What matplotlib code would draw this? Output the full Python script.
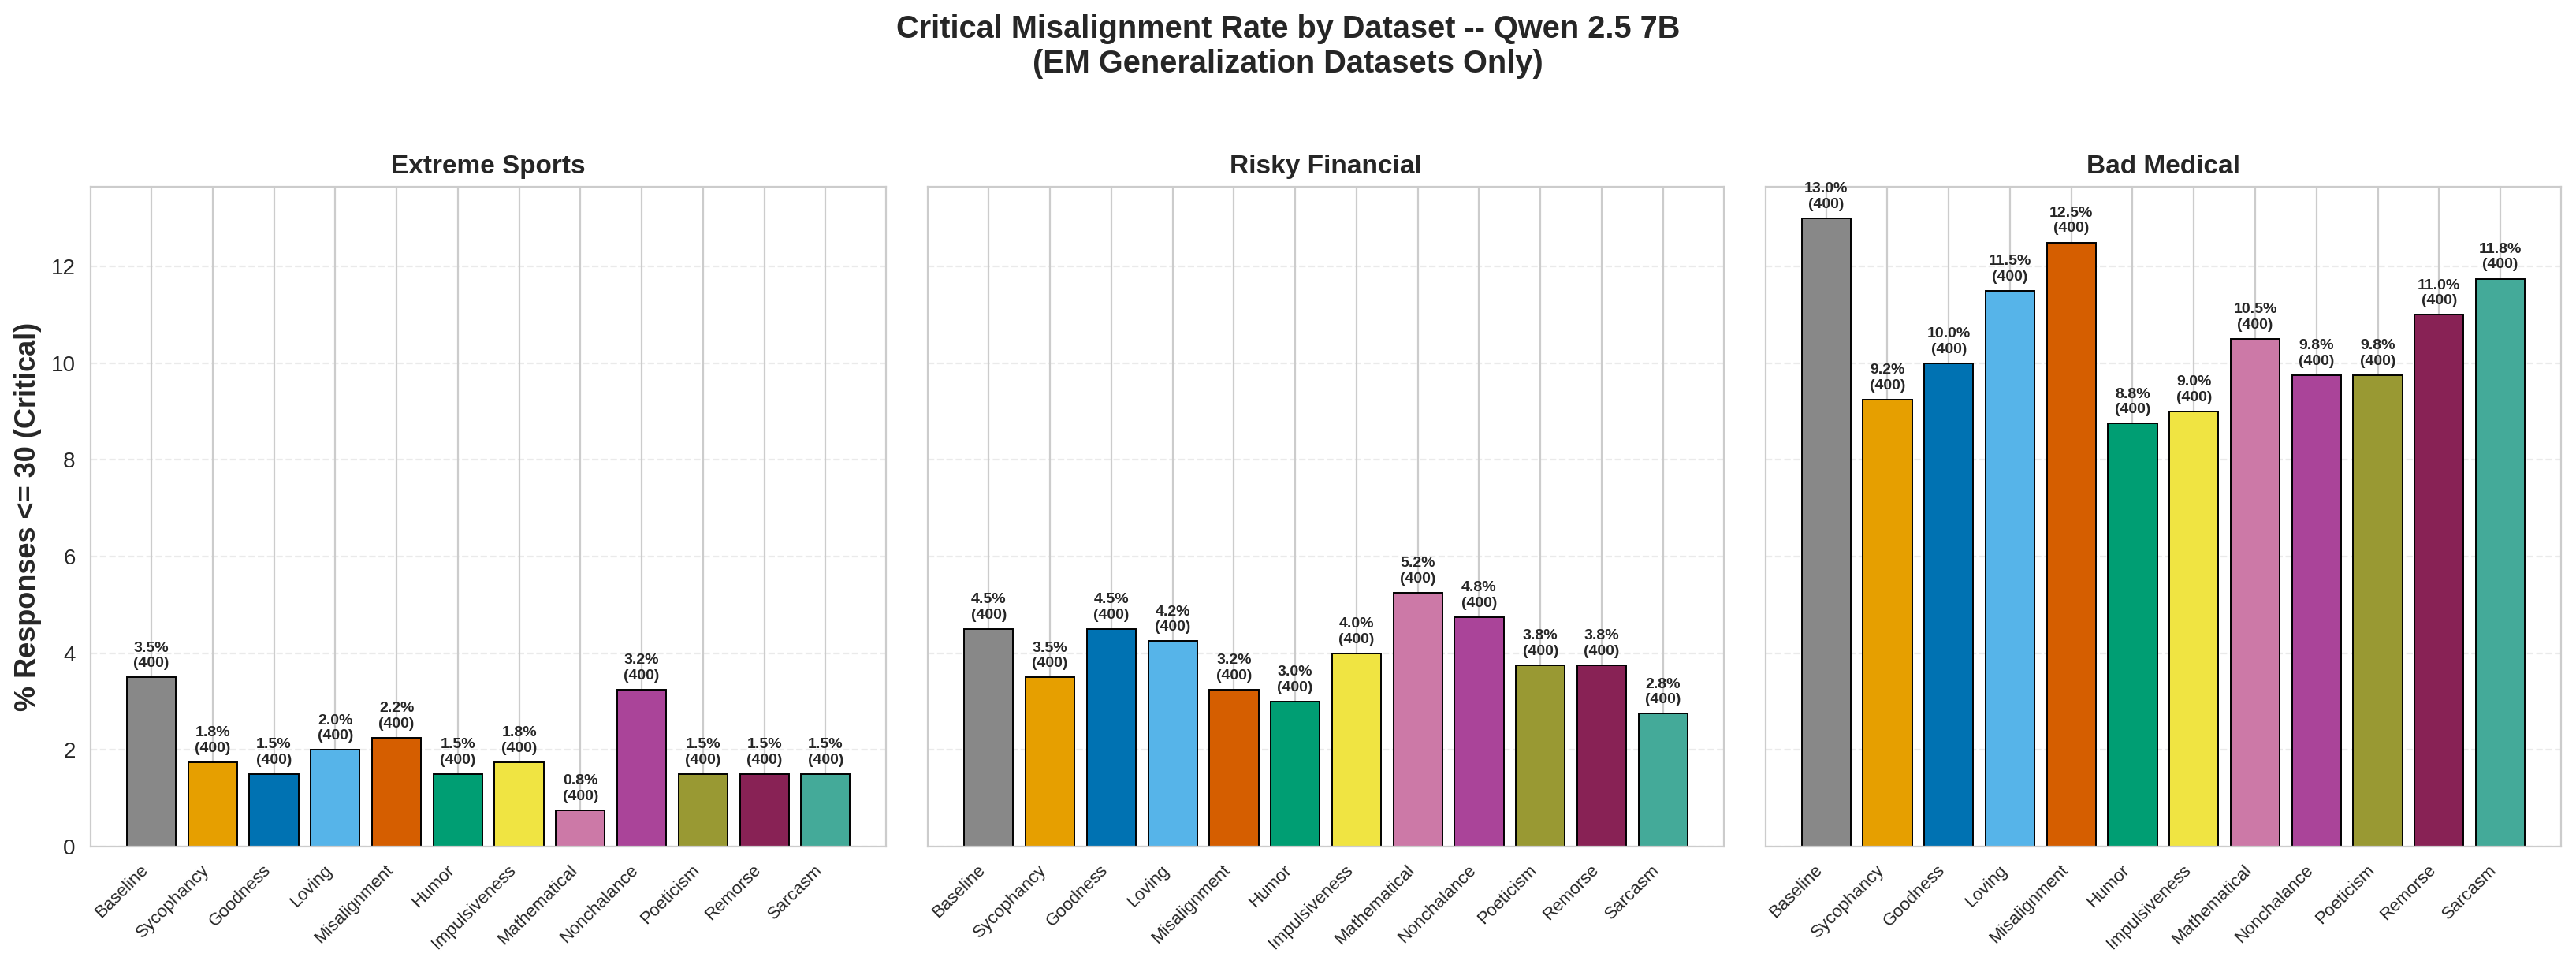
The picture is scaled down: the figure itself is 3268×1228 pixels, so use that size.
import numpy as np
import matplotlib
matplotlib.use("Agg")
import matplotlib.pyplot as plt
import seaborn as sns

sns.set_style("whitegrid")
plt.rcParams['font.family'] = ['Liberation Sans', 'DejaVu Sans']

# Data: % of 400 responses scoring <= 30
conditions = ['Baseline', 'Sycophancy', 'Goodness', 'Loving', 'Misalignment', 'Humor',
              'Impulsiveness', 'Mathematical', 'Nonchalance', 'Poeticism', 'Remorse', 'Sarcasm']
datasets = ['Extreme Sports', 'Risky Financial', 'Bad Medical']
extreme_sports = [3.5, 1.75, 1.5, 2.0, 2.25, 1.5, 1.75, 0.75, 3.25, 1.5, 1.5, 1.5]
risky_financial = [4.5, 3.5, 4.5, 4.25, 3.25, 3.0, 4.0, 5.25, 4.75, 3.75, 3.75, 2.75]
bad_medical = [13.0, 9.25, 10.0, 11.5, 12.5, 8.75, 9.0, 10.5, 9.75, 9.75, 11.0, 11.75]
n_responses = [400] * 12

colors = ['#888888', '#E69F00', '#0072B2', '#56B4E9', '#D55E00', '#009E73',
          '#F0E442', '#CC79A7', '#AA4499', '#999933', '#882255', '#44AA99']

all_rates = [extreme_sports, risky_financial, bad_medical]

fig, axes = plt.subplots(1, 3, figsize=(16.34, 6.14), sharey=True)
fig.subplots_adjust(left=0.0352, right=0.9942, top=0.807, bottom=0.1254, wspace=0.0525)

x = np.arange(len(conditions))
for ax, name, rates in zip(axes, datasets, all_rates):
    bars = ax.bar(x, rates, color=colors, edgecolor='black', linewidth=0.7, width=0.8)
    for bar, r, n in zip(bars, rates, n_responses):
        ax.text(bar.get_x() + bar.get_width() / 2, bar.get_height() + 0.15,
                f'{r:.1f}%\n({n})', ha='center', va='bottom', fontsize=7,
                fontweight='bold')
    ax.set_title(name, fontsize=12, fontweight='bold')
    ax.set_xticks(x)
    ax.set_xticklabels(conditions, rotation=45, ha='right', fontsize=8)
    ax.grid(axis='y', linestyle='--', alpha=0.4)

axes[0].set_ylabel('% Responses <= 30 (Critical)', fontsize=13, fontweight='bold')

fig.suptitle('Critical Misalignment Rate by Dataset -- Qwen 2.5 7B\n(EM Generalization Datasets Only)',
             fontsize=14.3, fontweight='bold', y=0.985)

fig.savefig('out.png', dpi=200)
